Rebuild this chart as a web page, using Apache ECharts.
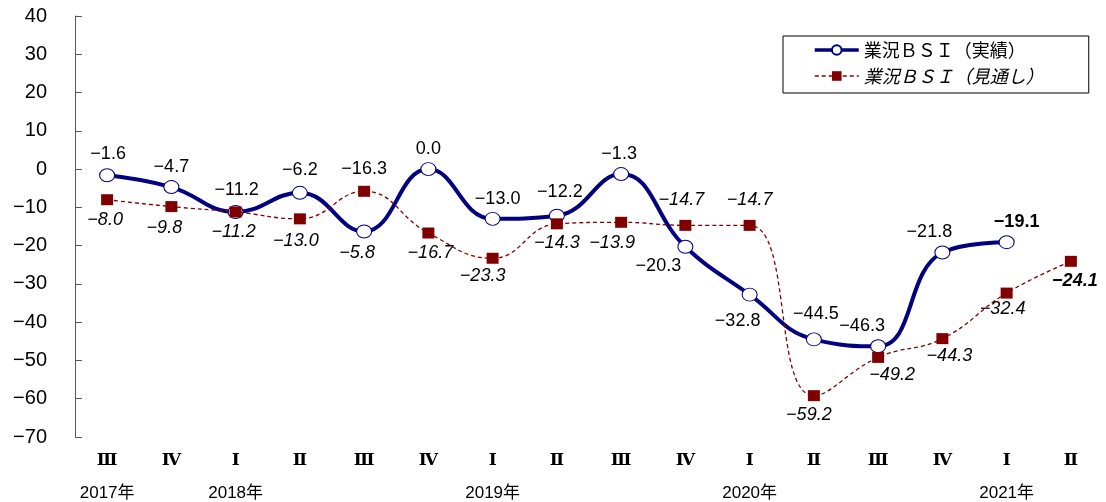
<!DOCTYPE html>
<html>
<head>
<meta charset="utf-8">
<script src="https://cdn.jsdelivr.net/npm/echarts@6/dist/echarts.min.js"></script>
<style>
html,body{margin:0;padding:0;background:#fff;}
#chart{width:1106px;height:502px;}
</style>
</head>
<body>
<div id="chart"></div>
<script>
// ---- data ----
const quarters = ['Ⅲ','Ⅳ','Ⅰ','Ⅱ','Ⅲ','Ⅳ','Ⅰ','Ⅱ','Ⅲ','Ⅳ','Ⅰ','Ⅱ','Ⅲ','Ⅳ','Ⅰ','Ⅱ'];
const years = ['2017年','','2018年','','','','2019年','','','','2020年','','','','2021年',''];
const actualName = '業況ＢＳＩ（実績）';
const forecastName = '業況ＢＳＩ（見通し）';
const actual = [-1.6,-4.7,-11.2,-6.2,-16.3,0.0,-13.0,-12.2,-1.3,-20.3,-32.8,-44.5,-46.3,-21.8,-19.1];
const forecast = [-8.0,-9.8,-11.2,-13.0,-5.8,-16.7,-23.3,-14.3,-13.9,-14.7,-14.7,-59.2,-49.2,-44.3,-32.4,-24.1];
const yMin = -70, yMax = 40, yStep = 10;

// ---- label placement (style, in pixels relative to marker centre) ----
const actualLabelOffsets = [[1,-21],[0,-20],[1,-22],[0,-23],[0,-62],[0,-20],[5,-20],[3,-24],[-2,-20],[-27,19],[-12,26],[2,-25],[-16,-20],[-13,-20],[10,-20]];
const forecastLabelOffsets = [[-2,20],[-7,21],[-2,20],[-4,22],[-7,62],[2,20],[-10,18],[0,19],[-9,21],[-4,-25],[0,-25],[-5,19],[14,18],[7,17],[-4,16],[4,20]];

const fmt = v => (v < 0 ? '\u2212' + Math.abs(v).toFixed(1) : v.toFixed(1));
const fmtAxis = v => (v < 0 ? '\u2212' + Math.abs(v) : String(v));

const labelFont = "'Liberation Sans', Arial, 'Noto Sans CJK JP', sans-serif";

const actualData = actual.map((v, i) => ({
  value: v,
  label: {
    offset: actualLabelOffsets[i],
    fontWeight: i === actual.length - 1 ? 'bold' : 'normal'
  }
}));
const forecastData = forecast.map((v, i) => ({
  value: v,
  label: {
    offset: forecastLabelOffsets[i],
    fontWeight: i === forecast.length - 1 ? 'bold' : 'normal'
  }
}));

const chart = echarts.init(document.getElementById('chart'), null, {renderer: 'canvas'});
chart.setOption({
  animation: false,
  backgroundColor: '#fff',
  grid: {left: 75, right: 3, top: 16, bottom: 65, containLabel: false},
  legend: {
    orient: 'vertical',
    left: 783,
    top: 36,
    padding: [5, 45, 8, 30],
    itemGap: 8,
    itemWidth: 44,
    itemHeight: 12,
    borderColor: '#000',
    borderWidth: 1,
    backgroundColor: '#fff',
    textStyle: {fontSize: 18, color: '#000', fontFamily: "'Noto Sans CJK JP', sans-serif"},
    data: [
      {name: actualName, lineStyle: {width: 3.5}},
      {name: forecastName, lineStyle: {width: 1.3}, textStyle: {fontStyle: 'italic'}}
    ]
  },
  xAxis: {
    type: 'category',
    data: quarters,
    boundaryGap: true,
    axisLine: {show: false},
    axisTick: {show: false},
    axisLabel: {
      margin: 8,
      interval: 0,
      formatter: (val, idx) => '{r|' + val + '}\n{y|' + (years[idx] || ' ') + '}',
      rich: {
        r: {fontSize: 17, fontWeight: 'bold', fontFamily: "'DejaVu Serif', 'Liberation Serif', serif", color: '#000', lineHeight: 32, align: 'center'},
        y: {fontSize: 17, fontFamily: "'Liberation Sans', 'Noto Sans CJK JP', sans-serif", color: '#000', lineHeight: 32, align: 'center'}
      }
    }
  },
  yAxis: {
    type: 'value',
    min: yMin,
    max: yMax,
    interval: yStep,
    splitLine: {show: false},
    axisLine: {show: true, lineStyle: {color: '#595959', width: 1}},
    axisTick: {show: true, inside: true, length: 7, lineStyle: {color: '#595959'}},
    axisLabel: {
      margin: 28,
      fontSize: 20,
      color: '#000',
      fontFamily: labelFont,
      formatter: fmtAxis
    }
  },
  series: [
    {
      name: actualName,
      type: 'line',
      data: actualData,
      smooth: 0.45,
      symbol: 'circle',
      symbolSize: [15, 13],
      itemStyle: {color: '#fff', borderColor: '#000080', borderWidth: 1},
      lineStyle: {color: '#000080', width: 4},
      label: {
        show: true,
        position: 'inside',
        align: 'center',
        verticalAlign: 'middle',
        fontSize: 18,
        color: '#000',
        fontFamily: labelFont,
        formatter: p => fmt(p.value)
      },
      z: 2
    },
    {
      name: forecastName,
      type: 'line',
      data: forecastData,
      smooth: 0.45,
      symbol: 'rect',
      symbolSize: [12, 11],
      itemStyle: {color: '#800000', borderColor: '#800000', borderWidth: 0},
      lineStyle: {color: '#800000', width: 1.3, type: [4, 3]},
      label: {
        show: true,
        position: 'inside',
        align: 'center',
        verticalAlign: 'middle',
        fontSize: 18,
        fontStyle: 'italic',
        color: '#000',
        fontFamily: labelFont,
        formatter: p => fmt(p.value)
      },
      z: 3
    }
  ]
});
</script>
</body>
</html>
